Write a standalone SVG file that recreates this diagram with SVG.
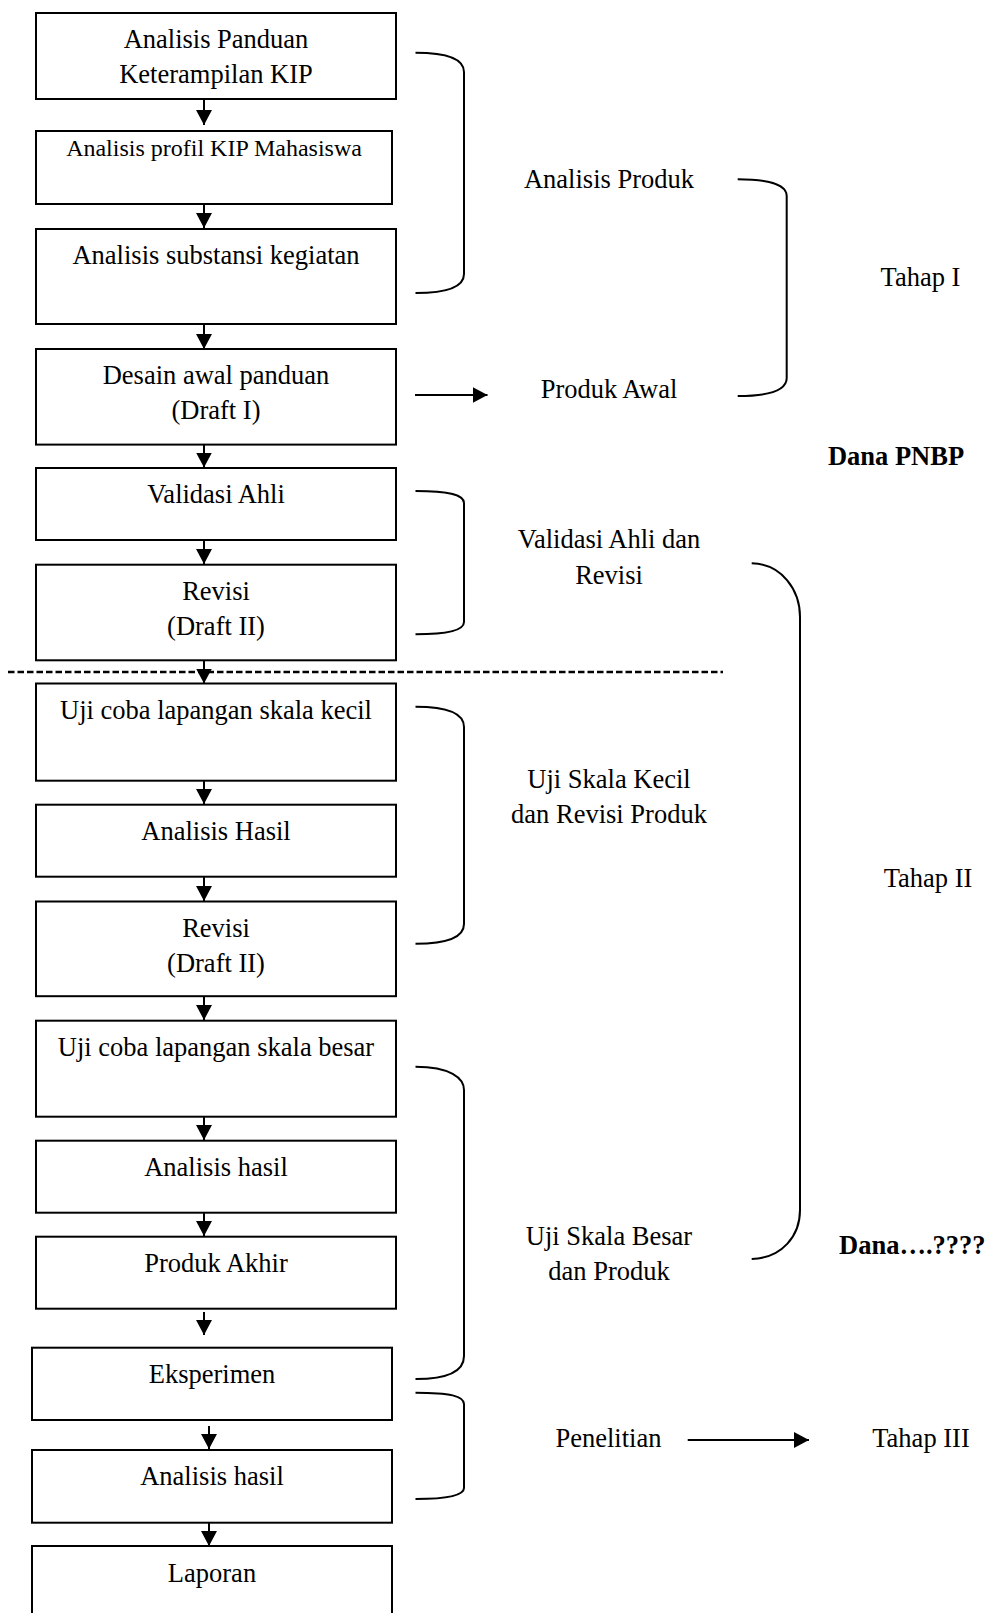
<svg xmlns="http://www.w3.org/2000/svg" width="990" height="1613" viewBox="0 0 990 1613">
<style>
.box{fill:#fff;stroke:#000;stroke-width:2}
.t{font-family:"Liberation Serif","Times New Roman",serif;font-size:26.5px;fill:#000;text-anchor:middle}
.s{font-size:24px}
.b{font-weight:bold}
.br{fill:none;stroke:#000;stroke-width:2}
.ar{stroke:#000;stroke-width:2;fill:none}
</style>
<defs>
<marker id="ah" markerUnits="userSpaceOnUse" markerWidth="15" markerHeight="16" refX="15" refY="8" orient="auto"><path d="M0,0 L15,8 L0,16 z" fill="#000"/></marker>
</defs>
<rect width="990" height="1613" fill="#fff"/>

<g id="n1"><rect class="box" x="36" y="13" width="360" height="86"/><text class="t" x="216" y="48">Analisis Panduan</text><text class="t" x="216" y="83">Keterampilan KIP</text></g>
<g id="n2"><rect class="box" x="36" y="131" width="356" height="73"/><text class="t s" x="214" y="156">Analisis profil KIP Mahasiswa</text></g>
<g id="n3"><rect class="box" x="36" y="229" width="360" height="95"/><text class="t" x="216" y="264">Analisis substansi kegiatan</text></g>
<g id="n4"><rect class="box" x="36" y="349" width="360" height="95.6"/><text class="t" x="216" y="384">Desain awal panduan</text><text class="t" x="216" y="419">(Draft I)</text></g>
<g id="n5"><rect class="box" x="36" y="468" width="360" height="72"/><text class="t" x="216" y="503">Validasi Ahli</text></g>
<g id="n6"><rect class="box" x="36" y="564.7" width="360" height="95.6"/><text class="t" x="216" y="600">Revisi</text><text class="t" x="216" y="635">(Draft II)</text></g>
<g id="n7"><rect class="box" x="36" y="683.5" width="360" height="97.2"/><text class="t" x="216" y="719">Uji coba lapangan skala kecil</text></g>
<g id="n8"><rect class="box" x="36" y="804.7" width="360" height="72"/><text class="t" x="216" y="839.5">Analisis Hasil</text></g>
<g id="n9"><rect class="box" x="36" y="901.5" width="360" height="94.7"/><text class="t" x="216" y="936.5">Revisi</text><text class="t" x="216" y="971.5">(Draft II)</text></g>
<g id="n10"><rect class="box" x="36" y="1020.7" width="360" height="96"/><text class="t" x="216" y="1055.5">Uji coba lapangan skala besar</text></g>
<g id="n11"><rect class="box" x="36" y="1140.7" width="360" height="72"/><text class="t" x="216" y="1175.5">Analisis hasil</text></g>
<g id="n12"><rect class="box" x="36" y="1236.7" width="360" height="72"/><text class="t" x="216" y="1271.5">Produk Akhir</text></g>
<g id="n13"><rect class="box" x="32" y="1347.7" width="360" height="72.3"/><text class="t" x="212" y="1382.5">Eksperimen</text></g>
<g id="n14"><rect class="box" x="32" y="1450" width="360" height="72.7"/><text class="t" x="212" y="1485">Analisis hasil</text></g>
<g id="n15"><rect class="box" x="32" y="1546" width="360" height="80"/><text class="t" x="212" y="1581.5">Laporan</text></g>

<g id="labels">
<text class="t" x="609" y="188">Analisis Produk</text>
<text class="t" x="609" y="398">Produk Awal</text>
<text class="t" x="920.5" y="286">Tahap I</text>
<text class="t b" x="896" y="465">Dana PNBP</text>
<text class="t" x="609" y="548.3">Validasi Ahli dan</text>
<text class="t" x="609" y="584.3">Revisi</text>
<text class="t" x="609" y="788.3">Uji Skala Kecil</text>
<text class="t" x="609" y="823.3">dan Revisi Produk</text>
<text class="t" x="928" y="887">Tahap II</text>
<text class="t" x="609" y="1245">Uji Skala Besar</text>
<text class="t" x="609" y="1280">dan Produk</text>
<text class="t b" x="839" y="1254" style="text-anchor:start">Dana….????</text>
<text class="t" x="608.5" y="1446.7">Penelitian</text>
<text class="t" x="921" y="1446.7">Tahap III</text>
</g>

<g id="connectors">
<path class="ar" marker-end="url(#ah)" d="M204,99 V125"/>
<path class="ar" marker-end="url(#ah)" d="M204,204 V228"/>
<path class="ar" marker-end="url(#ah)" d="M204,324 V349"/>
<path class="ar" marker-end="url(#ah)" d="M204,444.6 V467.5"/>
<path class="ar" marker-end="url(#ah)" d="M204,540 V564"/>
<path class="ar" marker-end="url(#ah)" d="M204,660.3 V683.5"/>
<path class="ar" marker-end="url(#ah)" d="M204,780.7 V804"/>
<path class="ar" marker-end="url(#ah)" d="M204,876.7 V901"/>
<path class="ar" marker-end="url(#ah)" d="M204,996.2 V1020"/>
<path class="ar" marker-end="url(#ah)" d="M204,1116.7 V1140"/>
<path class="ar" marker-end="url(#ah)" d="M204,1212.7 V1236"/>
<path class="ar" marker-end="url(#ah)" d="M204,1312 V1335"/>
<path class="ar" marker-end="url(#ah)" d="M209,1426 V1449"/>
<path class="ar" marker-end="url(#ah)" d="M209,1522.7 V1546"/>
<path class="ar" marker-end="url(#ah)" d="M415,395 H487.5"/>
<path class="ar" marker-end="url(#ah)" d="M687.7,1440 H809"/>
<line x1="8" y1="672" x2="723" y2="672" stroke="#000" stroke-width="2.5" stroke-dasharray="6.5 3"/>
<path class="br" d="M415.5,52.7 C450,52.7 464,60 464,72 V274 C464,286 450,293 415.5,293"/>
<path class="br" d="M415.5,491 C450,491 464,495 464,503 V622 C464,630 450,634.3 415.5,634.3"/>
<path class="br" d="M415.5,706.7 C450,706.7 464,715 464,727 V924 C464,936 450,943.7 415.5,943.7"/>
<path class="br" d="M415.5,1066.7 C450,1066.7 464,1078 464,1090 V1356 C464,1370 450,1379 415.5,1379"/>
<path class="br" d="M415.5,1392.7 C450,1392.7 464,1396 464,1404 V1488 C464,1495 450,1499 415.5,1499"/>
<path class="br" d="M737.7,179.3 C772,179.3 786.7,186 786.7,196 V378 C786.7,389 772,396 737.7,396"/>
<path class="br" d="M751.7,563.3 C782,564 800,590 800,617 V1210 C800,1236 782,1258 751.7,1259"/>
</g>
</svg>
